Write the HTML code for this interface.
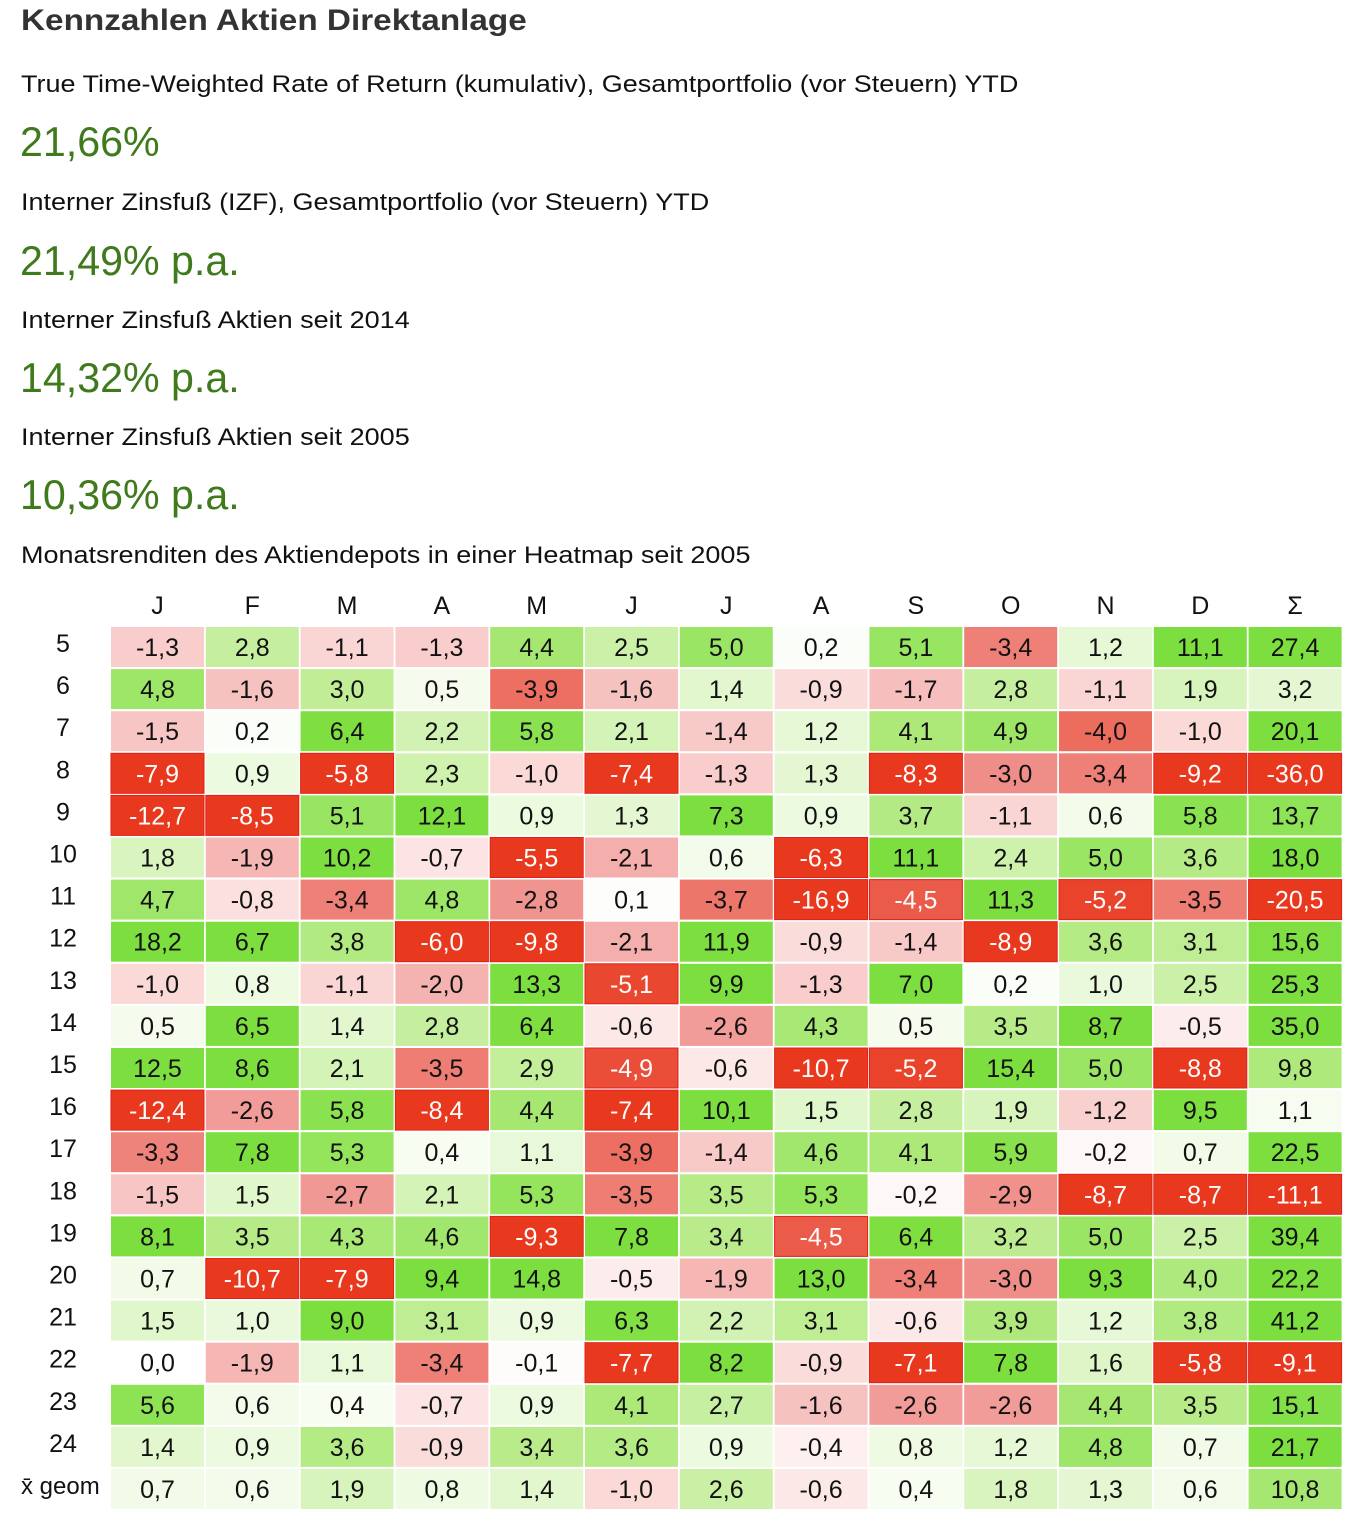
<!DOCTYPE html>
<html><head><meta charset="utf-8"><style>
body{margin:0;width:1358px;height:1524px;background:#fff;font-family:"Liberation Sans",sans-serif;position:relative;overflow:hidden}
.t{position:absolute;left:21px;white-space:nowrap;transform-origin:0 0}
.h{top:4px;font-size:30px;font-weight:bold;color:#333;transform:scaleX(1.11)}
.l{font-size:24px;color:#111;transform:scaleX(1.125)}
.v{font-size:42px;color:#3f7a1c;left:20px;transform:scaleX(0.98)}
</style></head><body>
<div class="t h">Kennzahlen Aktien Direktanlage</div>
<div class="t l" style="top:71px">True Time-Weighted Rate of Return (kumulativ), Gesamtportfolio (vor Steuern) YTD</div>
<div class="t v" style="top:118px">21,66%</div>
<div class="t l" style="top:189px">Interner Zinsfuß (IZF), Gesamtportfolio (vor Steuern) YTD</div>
<div class="t v" style="top:237px">21,49% p.a.</div>
<div class="t l" style="top:307px">Interner Zinsfuß Aktien seit 2014</div>
<div class="t v" style="top:354px">14,32% p.a.</div>
<div class="t l" style="top:424px">Interner Zinsfuß Aktien seit 2005</div>
<div class="t v" style="top:471px">10,36% p.a.</div>
<div class="t l" style="top:542px">Monatsrenditen des Aktiendepots in einer Heatmap seit 2005</div>
<svg id="hm" width="1358" height="1524" style="position:absolute;left:0;top:0"></svg>
<script>
const months=["J","F","M","A","M","J","J","A","S","O","N","D","Σ"];
const rowLabels=["5","6","7","8","9","10","11","12","13","14","15","16","17","18","19","20","21","22","23","24","x̄ geom"];
const r05=[-1.3,2.8,-1.1,-1.3,4.4,2.5,5.0,0.2,5.1,-3.4,1.2,11.1,27.4];
const r06=[4.8,-1.6,3.0,0.5,-3.9,-1.6,1.4,-0.9,-1.7,2.8,-1.1,1.9,3.2];
const r07=[-1.5,0.2,6.4,2.2,5.8,2.1,-1.4,1.2,4.1,4.9,-4.0,-1.0,20.1];
const r08=[-7.9,0.9,-5.8,2.3,-1.0,-7.4,-1.3,1.3,-8.3,-3.0,-3.4,-9.2,-36.0];
const r09=[-12.7,-8.5,5.1,12.1,0.9,1.3,7.3,0.9,3.7,-1.1,0.6,5.8,13.7];
const r10=[1.8,-1.9,10.2,-0.7,-5.5,-2.1,0.6,-6.3,11.1,2.4,5.0,3.6,18.0];
const r11=[4.7,-0.8,-3.4,4.8,-2.8,0.1,-3.7,-16.9,-4.5,11.3,-5.2,-3.5,-20.5];
const r12=[18.2,6.7,3.8,-6.0,-9.8,-2.1,11.9,-0.9,-1.4,-8.9,3.6,3.1,15.6];
const r13=[-1.0,0.8,-1.1,-2.0,13.3,-5.1,9.9,-1.3,7.0,0.2,1.0,2.5,25.3];
const r14=[0.5,6.5,1.4,2.8,6.4,-0.6,-2.6,4.3,0.5,3.5,8.7,-0.5,35.0];
const r15=[12.5,8.6,2.1,-3.5,2.9,-4.9,-0.6,-10.7,-5.2,15.4,5.0,-8.8,9.8];
const r16=[-12.4,-2.6,5.8,-8.4,4.4,-7.4,10.1,1.5,2.8,1.9,-1.2,9.5,1.1];
const r17=[-3.3,7.8,5.3,0.4,1.1,-3.9,-1.4,4.6,4.1,5.9,-0.2,0.7,22.5];
const r18=[-1.5,1.5,-2.7,2.1,5.3,-3.5,3.5,5.3,-0.2,-2.9,-8.7,-8.7,-11.1];
const r19=[8.1,3.5,4.3,4.6,-9.3,7.8,3.4,-4.5,6.4,3.2,5.0,2.5,39.4];
const r20=[0.7,-10.7,-7.9,9.4,14.8,-0.5,-1.9,13.0,-3.4,-3.0,9.3,4.0,22.2];
const r21=[1.5,1.0,9.0,3.1,0.9,6.3,2.2,3.1,-0.6,3.9,1.2,3.8,41.2];
const r22=[0.0,-1.9,1.1,-3.4,-0.1,-7.7,8.2,-0.9,-7.1,7.8,1.6,-5.8,-9.1];
const r23=[5.6,0.6,0.4,-0.7,0.9,4.1,2.7,-1.6,-2.6,-2.6,4.4,3.5,15.1];
const r24=[1.4,0.9,3.6,-0.9,3.4,3.6,0.9,-0.4,0.8,1.2,4.8,0.7,21.7];
const rMean=[0.7,0.6,1.9,0.8,1.4,-1.0,2.6,-0.6,0.4,1.8,1.3,0.6,10.8];
const values=[r05,r06,r07,r08,r09,r10,r11,r12,r13,r14,r15,r16,r17,r18,r19,r20,r21,r22,r23,r24,rMean];

const NS="http://www.w3.org/2000/svg";
const svg=document.getElementById('hm');
const x0=111,colW=94.8,y0=627,rowH=42.1,cw=93,ch=40;
const xPos=i=>x0+i*colW, yPos=j=>y0+j*rowH;
function mix(a,b,t){return a.map((v,i)=>Math.round(v+(b[i]-v)*t));}
function ramp(stops,t){if(t<=0.5)return mix(stops[0],stops[1],t*2);return mix(stops[1],stops[2],(t-0.5)*2);}
const RED=[[255,255,255],[240,150,146],[232,57,31]];
const GRN=[[255,255,255],[188,236,142],[125,223,63]];
function color(v,isSum){const m=v<0?(isSum?9:5.5):(isSum?16:6.5);const t=Math.min(Math.abs(v)/m,1);const c=ramp(v<0?RED:GRN,t);return {fill:`rgb(${c})`,t};}
function txt(x,y,s,size,fill,anchor){const e=document.createElementNS(NS,'text');e.setAttribute('x',x);e.setAttribute('y',y);e.setAttribute('font-size',size);e.setAttribute('fill',fill);e.setAttribute('text-anchor',anchor||'middle');e.setAttribute('font-family','Liberation Sans, sans-serif');e.textContent=s;svg.appendChild(e);return e;}
months.forEach((m,i)=>{const e=txt(xPos(i)+cw/2,614,m,25,'#111');

});
rowLabels.forEach((r,j)=>{const last=j===rowLabels.length-1;const e=txt(last?21:63,yPos(j)+25,r,last?24:25,'#111',last?'start':'middle');

});
values.forEach((row,j)=>row.forEach((v,i)=>{
 const c=color(v,i===12);
 const strong=v<0&&c.t>0.8;
 const r=document.createElementNS(NS,'rect');
 r.setAttribute('x',xPos(i));r.setAttribute('y',yPos(j));r.setAttribute('width',cw);r.setAttribute('height',ch);r.setAttribute('fill',c.fill);
 if(strong){r.setAttribute('stroke','#e0201a');r.setAttribute('stroke-width','1');}
 
 
 svg.appendChild(r);
 const e=txt(xPos(i)+cw/2,yPos(j)+29,v.toFixed(1).replace('.',','),25,strong?'#fff':'#111');
 
 
}));
</script>
</body></html>
